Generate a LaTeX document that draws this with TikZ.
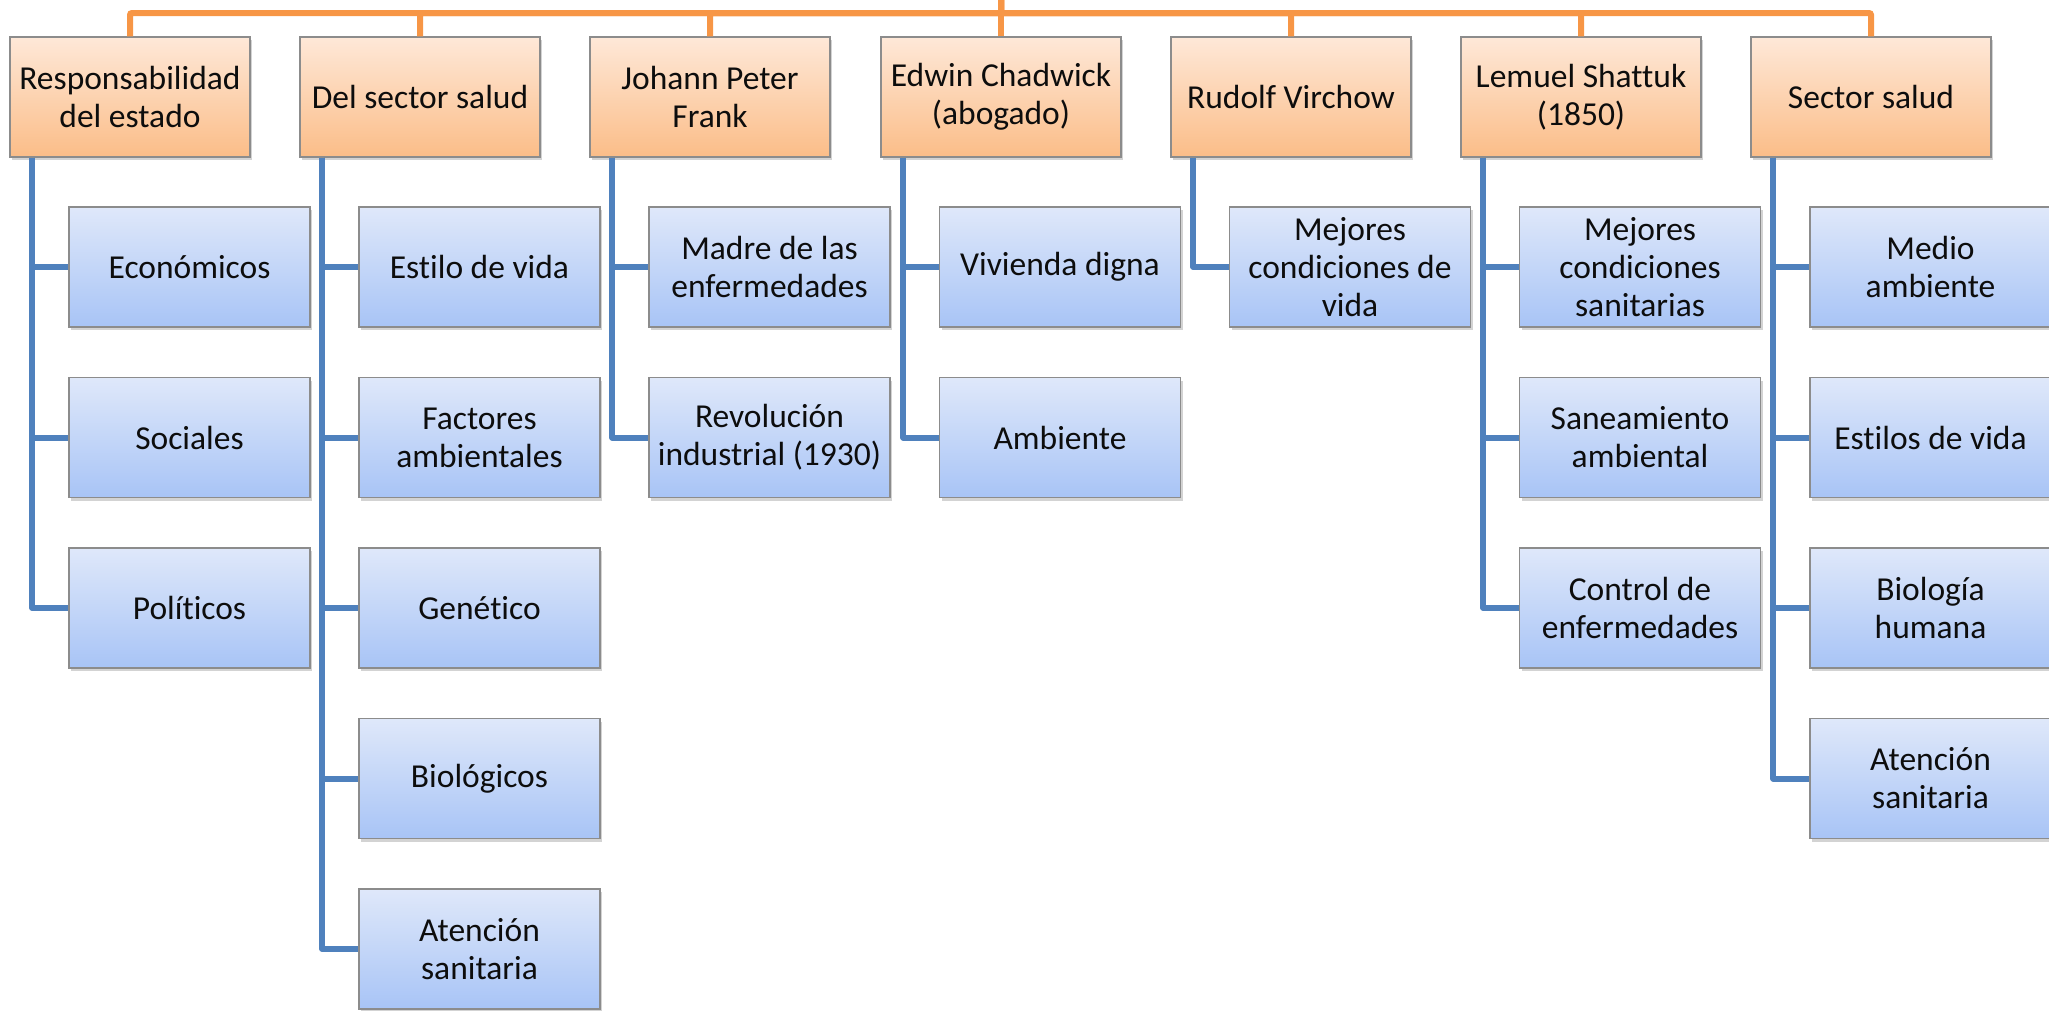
\documentclass[tikz,border=0pt]{standalone}
\usepackage{fontspec}
\setmainfont{Carlito}[Ligatures=NoCommon]
\usetikzlibrary{shadows}
\definecolor{naranjaA}{HTML}{FEE8D8}
\definecolor{naranjaB}{HTML}{FBBD88}
\definecolor{azulA}{HTML}{DFE8FA}
\definecolor{azulB}{HTML}{A8C4F6}
\definecolor{lineaN}{HTML}{F79646}
\definecolor{lineaA}{HTML}{4F81BD}
\begin{document}
\begin{tikzpicture}[x=1pt,y=-1pt]
 \tikzset{caja/.style={draw=black!45, line width=1.2pt, minimum width=240pt, minimum height=120pt, inner sep=0pt, align=center, font=\fontsize{33.5}{38}\selectfont, text=black!95, drop shadow={opacity=0.35, shadow xshift=2pt, shadow yshift=-3pt}}}
 \tikzset{cabeza/.style={caja, top color=naranjaA, bottom color=naranjaB}}
 \tikzset{hoja/.style={caja, minimum width=241pt, top color=azulA, bottom color=azulB}}
 \tikzset{tronco/.style={draw=lineaN, line width=6pt, rounded corners=2pt}}
 \tikzset{rama/.style={draw=lineaA, line width=6pt, line join=round}}
  \useasboundingbox (0,0) rectangle (2049,1010);
  \coordinate (raiz) at (1001,0);
  \node[cabeza] (T1) at (130,97) {Responsabilidad\\del estado};
  \node[cabeza] (T2) at (420,97) {Del sector salud};
  \node[cabeza] (T3) at (710,97) {Johann Peter\\Frank};
  \node[cabeza] (T4) at (1001,97) {Edwin Chadwick\\(abogado)};
  \node[cabeza] (T5) at (1291,97) {Rudolf Virchow};
  \node[cabeza] (T6) at (1581,97) {Lemuel Shattuk\\(1850)};
  \node[cabeza] (T7) at (1871,97) {Sector salud};
  \node[hoja] (E1) at (189.5,267) {Económicos};
  \node[hoja] (E2) at (189.5,437.5) {Sociales};
  \node[hoja] (E3) at (189.5,608) {Políticos};
  \node[hoja] (S1) at (479.5,267) {Estilo de vida};
  \node[hoja] (S2) at (479.5,437.5) {Factores\\ambientales};
  \node[hoja] (S3) at (479.5,608) {Genético};
  \node[hoja] (S4) at (479.5,778.5) {Biológicos};
  \node[hoja] (S5) at (479.5,949) {Atención\\sanitaria};
  \node[hoja] (F1) at (769.5,267) {Madre de las\\enfermedades};
  \node[hoja] (F2) at (769.5,437.5) {Revolución\\industrial (1930)};
  \node[hoja] (C1) at (1060,267) {Vivienda digna};
  \node[hoja] (C2) at (1060,437.5) {Ambiente};
  \node[hoja] (V1) at (1350,267) {Mejores\\condiciones de\\vida};
  \node[hoja] (L1) at (1640,267) {Mejores\\condiciones\\sanitarias};
  \node[hoja] (L2) at (1640,437.5) {Saneamiento\\ambiental};
  \node[hoja] (L3) at (1640,608) {Control de\\enfermedades};
  \node[hoja] (R1) at (1930.5,267) {Medio\\ambiente};
  \node[hoja] (R2) at (1930.5,437.5) {Estilos de vida};
  \node[hoja] (R3) at (1930.5,608) {Biología\\humana};
  \node[hoja] (R4) at (1930.5,778.5) {Atención\\sanitaria};
  \draw[tronco] (raiz) -- (T4.north);
  \draw[tronco] (raiz) -- ++(0,13) -| (T1.north);
  \draw[tronco] (raiz) -- ++(0,13) -| (T2.north);
  \draw[tronco] (raiz) -- ++(0,13) -| (T3.north);
  \draw[tronco] (raiz) -- ++(0,13) -| (T5.north);
  \draw[tronco] (raiz) -- ++(0,13) -| (T6.north);
  \draw[tronco] (raiz) -- ++(0,13) -| (T7.north);
  \draw[rama] ([xshift=23pt]T1.south west) |- (E1.west);
  \draw[rama] ([xshift=23pt]T1.south west) |- (E2.west);
  \draw[rama] ([xshift=23pt]T1.south west) |- (E3.west);
  \draw[rama] ([xshift=23pt]T2.south west) |- (S1.west);
  \draw[rama] ([xshift=23pt]T2.south west) |- (S2.west);
  \draw[rama] ([xshift=23pt]T2.south west) |- (S3.west);
  \draw[rama] ([xshift=23pt]T2.south west) |- (S4.west);
  \draw[rama] ([xshift=23pt]T2.south west) |- (S5.west);
  \draw[rama] ([xshift=23pt]T3.south west) |- (F1.west);
  \draw[rama] ([xshift=23pt]T3.south west) |- (F2.west);
  \draw[rama] ([xshift=23pt]T4.south west) |- (C1.west);
  \draw[rama] ([xshift=23pt]T4.south west) |- (C2.west);
  \draw[rama] ([xshift=23pt]T5.south west) |- (V1.west);
  \draw[rama] ([xshift=23pt]T6.south west) |- (L1.west);
  \draw[rama] ([xshift=23pt]T6.south west) |- (L2.west);
  \draw[rama] ([xshift=23pt]T6.south west) |- (L3.west);
  \draw[rama] ([xshift=23pt]T7.south west) |- (R1.west);
  \draw[rama] ([xshift=23pt]T7.south west) |- (R2.west);
  \draw[rama] ([xshift=23pt]T7.south west) |- (R3.west);
  \draw[rama] ([xshift=23pt]T7.south west) |- (R4.west);
\end{tikzpicture}
\end{document}
